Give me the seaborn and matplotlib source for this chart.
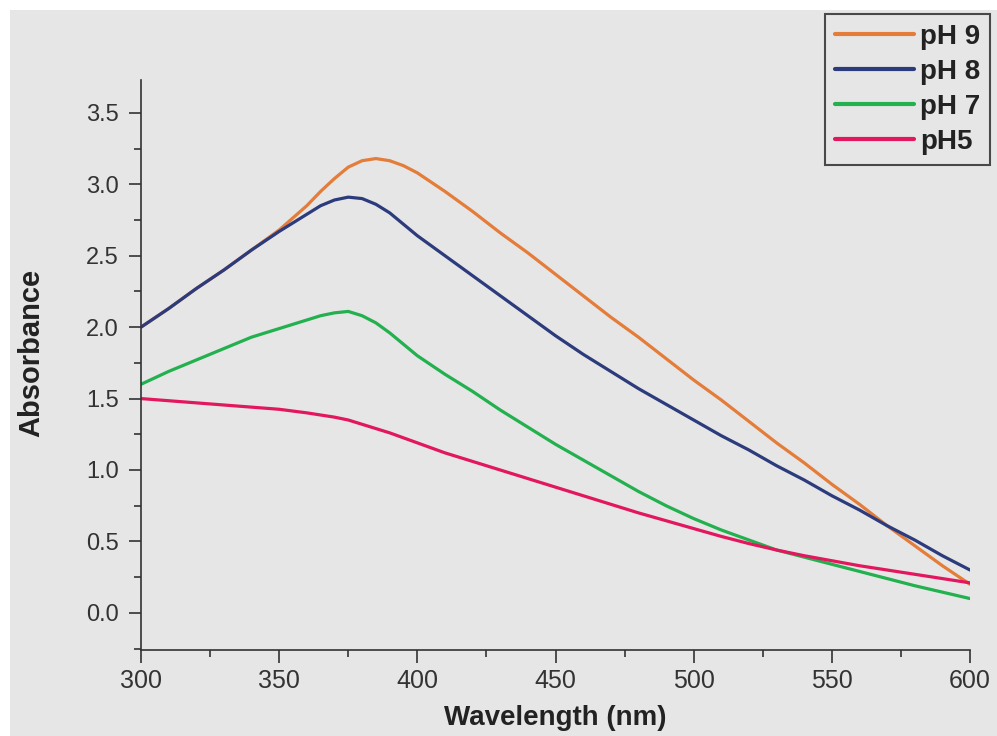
import numpy as np
import pandas as pd
import matplotlib
matplotlib.use("Agg")
import matplotlib.pyplot as plt
import seaborn as sns
from matplotlib.patches import Rectangle
from matplotlib.ticker import MultipleLocator, FormatStrFormatter

# values (common wavelength grid)
wavelength = [300, 310, 320, 330, 340, 350, 360,
              365, 370, 375, 380, 385, 390, 395,
              400, 410, 420, 430, 440, 450, 460, 470, 480, 490, 500,
              510, 520, 530, 540, 550, 560, 570, 580, 590, 600]

abs_ph9 = [2.00, 2.13, 2.27, 2.40, 2.54, 2.68, 2.85,
           2.95, 3.04, 3.12, 3.165, 3.18, 3.165, 3.13,
           3.08, 2.95, 2.81, 2.66, 2.52, 2.37, 2.22, 2.07, 1.93, 1.78, 1.63,
           1.49, 1.34, 1.19, 1.05, 0.90, 0.76, 0.61, 0.47, 0.33, 0.20]

abs_ph8 = [2.00, 2.13, 2.27, 2.40, 2.54, 2.67, 2.79,
           2.85, 2.89, 2.91, 2.90, 2.86, 2.80, 2.72,
           2.64, 2.50, 2.36, 2.22, 2.08, 1.94, 1.81, 1.69, 1.57, 1.46, 1.35,
           1.24, 1.14, 1.03, 0.93, 0.82, 0.72, 0.61, 0.51, 0.40, 0.30]

abs_ph7 = [1.60, 1.69, 1.77, 1.85, 1.93, 1.99, 2.05,
           2.08, 2.10, 2.11, 2.08, 2.03, 1.96, 1.88,
           1.80, 1.67, 1.55, 1.42, 1.30, 1.18, 1.07, 0.96, 0.85, 0.75, 0.66,
           0.58, 0.51, 0.44, 0.39, 0.34, 0.29, 0.24, 0.19, 0.145, 0.10]

abs_ph5 = [1.50, 1.485, 1.47, 1.455, 1.44, 1.425, 1.40,
           1.385, 1.37, 1.35, 1.32, 1.29, 1.26, 1.225,
           1.19, 1.12, 1.06, 1.00, 0.94, 0.88, 0.82, 0.76, 0.70, 0.645, 0.59,
           0.535, 0.485, 0.44, 0.40, 0.365, 0.33, 0.30, 0.27, 0.24, 0.21]

labels = ["pH 9", "pH 8", "pH 7", "pH5"]
colors = ["#E47C3A", "#2C3B7C", "#23B04E", "#E2175E"]

wide = pd.DataFrame({"Wavelength": wavelength, "pH 9": abs_ph9, "pH 8": abs_ph8,
                     "pH 7": abs_ph7, "pH5": abs_ph5})
df = wide.melt(id_vars="Wavelength", var_name="Sample", value_name="Absorbance")

sns.set_style("ticks")
plt.rcParams['font.family'] = ['Liberation Sans', 'DejaVu Sans']

bg = "#e6e6e6"
fig = plt.figure(figsize=(9.97, 7.36), dpi=100, facecolor=bg)
# thin white margin on top and left like the scanned figure
fig.add_artist(Rectangle((0, 1 - 10 / 736), 1, 10 / 736, transform=fig.transFigure,
                         facecolor="white", edgecolor="none", zorder=0))
fig.add_artist(Rectangle((0, 0), 10 / 997, 1, transform=fig.transFigure,
                         facecolor="white", edgecolor="none", zorder=0))

ax = fig.add_axes([141 / 997, 1 - 650 / 736, (970 - 141) / 997, (650 - 80) / 736])
ax.set_facecolor(bg)

sns.lineplot(data=df, x="Wavelength", y="Absorbance", hue="Sample",
             palette=dict(zip(labels, colors)), hue_order=labels,
             linewidth=2.3, ax=ax, legend=False)

ax.set_xlim(300, 600)
ax.set_ylim(-0.26, 3.73)
ax.xaxis.set_major_locator(MultipleLocator(50))
ax.xaxis.set_minor_locator(MultipleLocator(25))
ax.yaxis.set_major_locator(MultipleLocator(0.5))
ax.yaxis.set_minor_locator(MultipleLocator(0.25))
ax.yaxis.set_major_formatter(FormatStrFormatter("%.1f"))

for s in ["top", "right"]:
    ax.spines[s].set_visible(False)
for s in ["left", "bottom"]:
    ax.spines[s].set_linewidth(1.2)
    ax.spines[s].set_color("#333333")

ax.tick_params(which="major", direction="out", length=9, width=1.2, color="#333333")
ax.tick_params(which="minor", direction="out", length=5, width=1.2, color="#333333")
ax.tick_params(axis="x", labelsize=18, pad=5, labelcolor="#333333")
ax.tick_params(axis="y", labelsize=17, pad=7, labelcolor="#333333")

ax.set_xlabel("Wavelength (nm)", fontsize=20, fontweight="bold", color="#222222")
ax.set_ylabel("Absorbance", fontsize=21, fontweight="bold", color="#222222")
ax.xaxis.set_label_coords(0.5, (650 - 705) / 570)
ax.yaxis.set_label_coords((45 - 141) / 829, (650 - 353) / 570)

handles = [plt.Line2D([], [], color=c, linewidth=3) for c in colors]
leg = fig.legend(handles, labels, loc="upper left",
                 bbox_to_anchor=(825 / 997, 1 - 14 / 736), bbox_transform=fig.transFigure,
                 borderaxespad=0, frameon=True, fancybox=False,
                 prop={"size": 20, "weight": "bold"},
                 handlelength=2.85, handletextpad=0.22, labelspacing=0.33, borderpad=0.35)
leg.get_frame().set_edgecolor("#222222")
leg.get_frame().set_linewidth(1.5)
leg.get_frame().set_facecolor(bg)
for t in leg.get_texts():
    t.set_color("#222222")

fig.savefig("out.png", dpi=100, facecolor=bg)
